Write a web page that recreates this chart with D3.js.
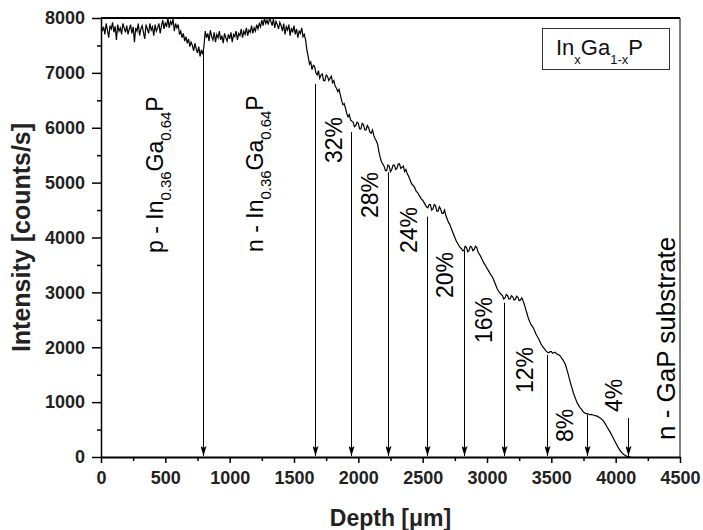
<!DOCTYPE html>
<html>
<head>
<meta charset="utf-8">
<script src="https://cdn.jsdelivr.net/npm/d3@7"></script>
<style>
  body { margin: 0; background: #fff; }
  svg { font-family: "Liberation Sans", Arial, sans-serif; }
</style>
</head>
<body>
<div id="chart"></div>
<script>
// depth profile, one reading every 10 um starting at 0 (one row = 200 um)
let depthStep = 10;
let intensity = [
    7880, 7760, 7840, 7700, 7900, 7780, 7640, 7860, 7800, 7920, 7740, 7850, 7600, 7880, 7760, 7820, 7700, 7900, 7820, 7740,
    7860, 7700, 7800, 7880, 7720, 7840, 7560, 7820, 7760, 7900, 7680, 7800, 7860, 7740, 7620, 7880, 7800, 7720, 7900, 7780,
    7840, 7680, 7880, 7760, 7820, 7900, 7720, 7860, 7960, 7800, 7920, 7840, 8000, 7820, 7940, 7880, 7980, 7760, 7900, 7820,
    7880, 7700, 7760, 7640, 7720, 7580, 7660, 7540, 7620, 7480, 7560, 7500, 7400, 7540, 7440, 7360, 7480, 7300, 7420, 7340,
    7480, 7760, 7640, 7720, 7580, 7780, 7660, 7600, 7740, 7560, 7700, 7640, 7760, 7600, 7680, 7540, 7720, 7640, 7580, 7700,
    7620, 7740, 7560, 7700, 7660, 7760, 7600, 7720, 7680, 7800, 7640, 7760, 7700, 7820, 7680, 7780, 7740, 7860, 7720, 7820,
    7760, 7880, 7800, 7900, 7840, 7960, 7860, 8000, 7900, 7960, 7880, 8000, 7940, 7860, 7980, 7820, 7940, 7880, 7800, 7920,
    7860, 7760, 7900, 7700, 7840, 7780, 7880, 7680, 7820, 7740, 7860, 7700, 7800, 7640, 7760, 7720, 7820, 7660, 7700, 7600,
    7420, 7300, 7160, 7200, 7060, 7140, 7120, 7000, 6960, 7040, 6900, 6960, 6980, 6860, 6860, 6960, 6940, 6860, 6900, 6940,
    6820, 6860, 6760, 6720, 6660, 6700, 6600, 6500, 6420, 6440, 6360, 6260, 6200, 6240, 6140, 6120, 6100, 6020, 6040, 6100,
    6080, 5980, 5980, 6080, 6060, 5960, 5960, 6040, 6000, 5920, 5900, 5960, 5860, 5800, 5760, 5700, 5560, 5460, 5380, 5340,
    5300, 5220, 5220, 5320, 5300, 5200, 5240, 5320, 5320, 5240, 5260, 5340, 5340, 5260, 5280, 5300, 5200, 5240, 5160, 5120,
    5060, 5000, 4960, 4940, 4900, 4840, 4820, 4780, 4740, 4700, 4680, 4640, 4600, 4560, 4540, 4600, 4600, 4500, 4520, 4600,
    4580, 4480, 4480, 4560, 4520, 4440, 4440, 4500, 4400, 4340, 4280, 4240, 4180, 4120, 4060, 4000, 3940, 3900, 3860, 3820,
    3800, 3760, 3760, 3840, 3820, 3740, 3760, 3840, 3830, 3760, 3780, 3840, 3820, 3740, 3700, 3660, 3610, 3560, 3520, 3480,
    3440, 3400, 3360, 3320, 3290, 3240, 3180, 3120, 3060, 3020, 2990, 2960, 2940, 2880, 2900, 2960, 2940, 2880, 2880, 2940,
    2920, 2860, 2870, 2930, 2910, 2850, 2860, 2900, 2850, 2780, 2700, 2620, 2540, 2480, 2420, 2390, 2350, 2300, 2240, 2200,
    2160, 2110, 2060, 2020, 1990, 1960, 1930, 1910, 1900, 1920, 1920, 1890, 1900, 1910, 1880, 1870, 1860, 1840, 1800, 1770,
    1730, 1680, 1600, 1520, 1430, 1340, 1260, 1180, 1110, 1050, 990, 950, 910, 880, 850, 820, 800, 790, 790, 780,
    770, 775, 770, 760, 755, 750, 740, 725, 710, 690, 670, 640, 600, 560, 520, 480, 440, 395, 350, 305,
    260, 215, 170, 135, 100, 75, 50, 35, 20, 10, 5, 2, 0
];

// layer boundaries marked by arrows
let arrowDepth = [793, 1663, 1943, 2230, 2534, 2821, 3132, 3466, 3777, 4096];
let arrowTop = [7450, 6800, 5920, 5190, 4380, 3770, 2810, 1860, 770, 710];

// In fraction of each graded layer
let stepLabels = ["32%", "28%", "24%", "20%", "16%", "12%", "8%", "4%"];
let stepLabelDepth = [1873, 2153, 2456, 2736, 3039, 3357, 3668, 4049];
let stepLabelValue = [5358, 4355, 3718, 2897, 2077, 1166, 273, 820];

let xTicks = [0, 500, 1000, 1500, 2000, 2500, 3000, 3500, 4000, 4500];
let yTicks = [0, 1000, 2000, 3000, 4000, 5000, 6000, 7000, 8000];

let width = 703, height = 530;
let margin = {top: 18, right: 23, bottom: 73, left: 101};

let svg = d3.select("#chart").append("svg")
    .attr("width", width)
    .attr("height", height);

let x = d3.scaleLinear().domain([0, 4500]).range([margin.left, width - margin.right]);
let y = d3.scaleLinear().domain([0, 8000]).range([height - margin.bottom, margin.top]);

let defs = svg.append("defs");
defs.append("clipPath").attr("id", "plot")
    .append("rect")
    .attr("x", margin.left).attr("y", margin.top)
    .attr("width", x(4500) - x(0)).attr("height", y(0) - y(8000));

// arrowhead, tip pointing down
defs.append("marker")
    .attr("id", "head")
    .attr("viewBox", "0 0 6 10")
    .attr("refX", 3).attr("refY", 10)
    .attr("markerWidth", 6).attr("markerHeight", 10)
    .attr("markerUnits", "userSpaceOnUse")
    .attr("orient", "0")
    .append("path")
    .attr("d", "M0,0L3,10L6,0L3,2Z")
    .attr("fill", "#000");

// curve
let line = d3.line()
    .x(function(d, i) { return x(i * depthStep); })
    .y(function(d) { return y(d); });

svg.append("path")
    .datum(intensity)
    .attr("clip-path", "url(#plot)")
    .attr("fill", "none")
    .attr("stroke", "#000")
    .attr("stroke-width", 1.2)
    .attr("d", line);

// arrows
svg.append("g").selectAll("line")
    .data(arrowDepth)
    .enter().append("line")
    .attr("x1", function(d) { return Math.round(x(d)) + 0.5; })
    .attr("x2", function(d) { return Math.round(x(d)) + 0.5; })
    .attr("y1", function(d, i) { return y(arrowTop[i]); })
    .attr("y2", y(0) - 1)
    .attr("stroke", "#000")
    .attr("stroke-width", 1)
    .attr("marker-end", "url(#head)");

// axes
let xAxis = svg.append("g")
    .attr("transform", "translate(0," + y(0) + ")")
    .call(d3.axisBottom(x).tickValues(xTicks).tickFormat(d3.format("d"))
        .tickSize(6).tickSizeOuter(0).tickPadding(8));
svg.append("g")
    .attr("transform", "translate(0," + y(0) + ")")
    .call(d3.axisBottom(x).tickValues(d3.range(250, 4500, 500)).tickSize(4).tickFormat(""))
    .call(function(g) { g.select(".domain").remove(); });

let yAxis = svg.append("g")
    .attr("transform", "translate(" + x(0) + ",0)")
    .call(d3.axisLeft(y).tickValues(yTicks).tickFormat(d3.format("d"))
        .tickSize(9).tickSizeOuter(0).tickPadding(7));
svg.append("g")
    .attr("transform", "translate(" + x(0) + ",0)")
    .call(d3.axisLeft(y).tickValues(d3.range(500, 8000, 1000)).tickSize(4).tickFormat(""))
    .call(function(g) { g.select(".domain").remove(); });

xAxis.select(".domain").attr("stroke-width", 2);
yAxis.select(".domain").attr("stroke-width", 1.5);
svg.selectAll(".tick line").attr("stroke-width", 1.5);
svg.selectAll(".tick text")
    .attr("font-family", "Liberation Sans, Arial, sans-serif")
    .attr("font-size", 18)
    .attr("font-weight", "bold")
    .attr("fill", "#222");

// frame top/right
svg.append("line")
    .attr("x1", x(0)).attr("x2", x(4500))
    .attr("y1", y(8000)).attr("y2", y(8000))
    .attr("stroke", "#000").attr("stroke-width", 2);
svg.append("line")
    .attr("x1", x(4500)).attr("x2", x(4500))
    .attr("y1", y(8000)).attr("y2", y(0))
    .attr("stroke", "#000").attr("stroke-width", 1);

// axis titles
svg.append("text")
    .attr("x", (x(0) + x(4500)) / 2)
    .attr("y", 526)
    .attr("text-anchor", "middle")
    .attr("font-size", 23)
    .attr("font-weight", "bold")
    .attr("fill", "#222")
    .text("Depth [\u03bcm]");

svg.append("text")
    .attr("transform", "translate(30," + (y(0) + y(8000)) / 2 + ") rotate(-90)")
    .attr("text-anchor", "middle")
    .attr("font-size", 25)
    .attr("font-weight", "bold")
    .attr("fill", "#222")
    .text("Intensity [counts/s]");

// rotated label with subscripts
function subLabel(parts, px, py, size) {
    let t = svg.append("text")
        .attr("transform", "translate(" + px + "," + py + ") rotate(-90)")
        .attr("font-size", size)
        .attr("fill", "#000");
    parts.forEach(function(p) {
        t.append("tspan")
            .attr("font-size", p[1] ? size * 0.65 : size)
            .attr("dy", p[1] ? 8 : (p[2] ? -8 : 0))
            .text(p[0]);
    });
    return t;
}

subLabel([["p - In"], ["0.36", 1], ["Ga", 0, 1], ["0.64", 1], ["P", 0, 1]], x(482), y(3718), 23);
subLabel([["n - In"], ["0.36", 1], ["Ga", 0, 1], ["0.64", 1], ["P", 0, 1]], x(1259), y(3736), 23);

svg.append("g").selectAll("text")
    .data(stepLabels)
    .enter().append("text")
    .attr("transform", function(d, i) {
        return "translate(" + x(stepLabelDepth[i]) + "," + y(stepLabelValue[i]) + ") rotate(-90)";
    })
    .attr("font-size", 23)
    .attr("fill", "#000")
    .text(function(d) { return d; });

svg.append("text")
    .attr("transform", "translate(" + x(4461) + "," + y(310) + ") rotate(-90)")
    .attr("font-size", 26)
    .attr("fill", "#000")
    .text("n - GaP substrate");

// legend box
svg.append("rect")
    .attr("x", 542.5).attr("y", 28.5)
    .attr("width", 127).attr("height", 41)
    .attr("fill", "#fff")
    .attr("stroke", "#333");

let leg = svg.append("text")
    .attr("x", 556).attr("y", 55)
    .attr("font-size", 22)
    .attr("fill", "#111");
[["In"], ["x", 1], ["Ga", 0, 1], ["1-x", 1], ["P", 0, 1]].forEach(function(p) {
    leg.append("tspan")
        .attr("font-size", p[1] ? 13 : 22)
        .attr("dy", p[1] ? 9 : (p[2] ? -9 : 0))
        .text(p[0]);
});
</script>
</body>
</html>
